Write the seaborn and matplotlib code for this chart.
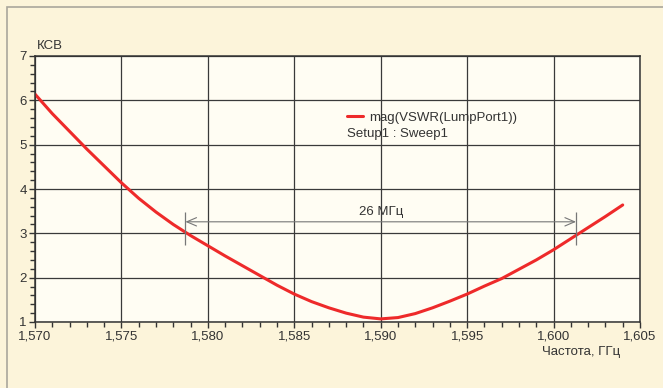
import matplotlib
matplotlib.use("Agg")
import matplotlib.pyplot as plt
import matplotlib.ticker as mticker
import numpy as np
import pandas as pd
import seaborn as sns
from matplotlib.patches import Rectangle

# частота, ГГц и КСВ
freq = [1.570, 1.571, 1.572, 1.573, 1.574, 1.575, 1.576, 1.577, 1.578, 1.579,
        1.580, 1.581, 1.582, 1.583, 1.584, 1.585, 1.586, 1.587, 1.588, 1.589,
        1.590, 1.591, 1.592, 1.593, 1.594, 1.595, 1.596, 1.597, 1.598, 1.599,
        1.600, 1.601, 1.602, 1.603, 1.604]
vswr = [6.14, 5.70, 5.30, 4.90, 4.52, 4.14, 3.79, 3.48, 3.20, 2.95,
        2.72, 2.49, 2.27, 2.05, 1.83, 1.63, 1.46, 1.32, 1.20, 1.11,
        1.07, 1.10, 1.19, 1.32, 1.47, 1.63, 1.81, 1.98, 2.19, 2.40,
        2.63, 2.88, 3.13, 3.38, 3.64]

band_low = 1.5787
band_high = 1.6013
band_level = 3.26
band_label = "26 МГц"

x_ticks = [1.570, 1.575, 1.580, 1.585, 1.590, 1.595, 1.600, 1.605]
y_ticks = [1, 2, 3, 4, 5, 6, 7]

df = pd.DataFrame({"freq": freq, "vswr": vswr})

sns.set_style("ticks")
plt.rcParams["font.family"] = ["Liberation Sans Narrow", "Liberation Sans", "DejaVu Sans"]

fig = plt.figure(figsize=(6.63, 3.88), dpi=100)
fig.patch.set_facecolor("#fcf4da")
ax = fig.add_axes([35 / 663, 1 - 322 / 388, 605 / 663, 266 / 388])
ax.set_facecolor("#fffdf3")

# рамка страницы
fig.add_artist(Rectangle((7 / 663, -0.05), 1.0, 1 - 7 / 388 + 0.05,
                         transform=fig.transFigure, fill=False,
                         edgecolor="#aaa79c", lw=1.2))

sns.lineplot(data=df, x="freq", y="vswr", ax=ax, color="#ee2a2a", lw=2.2,
             label="mag(VSWR(LumpPort1))")

ax.set_xlim(1.570, 1.605)
ax.set_ylim(1, 7)
ax.set_xticks(x_ticks)
ax.set_yticks(y_ticks)
ax.xaxis.set_minor_locator(mticker.MultipleLocator(0.001))
ax.yaxis.set_minor_locator(mticker.MultipleLocator(0.2))
ax.set_xticklabels([f"{t:.3f}".replace(".", ",") for t in x_ticks])
ax.grid(True, which="major", color="#3a3a3a", lw=0.9)
ax.tick_params(which="major", length=4, width=1, color="#333333",
               labelsize=9.5, labelcolor="#333333", pad=2)
ax.tick_params(which="minor", length=3.5, width=1, color="#333333")
for s in ax.spines.values():
    s.set_color("#333333")
    s.set_linewidth(1.1)

ax.set_xlabel("")
ax.set_ylabel("")
fig.text(37 / 663, 1 - 46 / 388, "КСВ", fontsize=9.5, color="#333333",
         va="center", ha="left")
fig.text(620 / 663, 1 - 352 / 388, "Частота, ГГц", fontsize=9.5,
         color="#333333", va="center", ha="right")

# полоса по уровню КСВ = 3
ax.annotate("", xy=(band_low, band_level), xytext=(band_high, band_level),
            arrowprops=dict(arrowstyle="<->,head_length=0.7,head_width=0.3",
                            color="#777777", lw=0.8,
                            shrinkA=0, shrinkB=0))
ax.vlines([band_low, band_high], band_level - 0.52, band_level + 0.22,
          color="#777777", lw=0.9)
ax.text((band_low + band_high) / 2, band_level + 0.08, band_label,
        ha="center", va="bottom", fontsize=9.5, color="#333333")

leg = ax.legend(loc="upper left", bbox_to_anchor=(0.516, 0.79), frameon=False,
                handlelength=1.2, handletextpad=0.5, fontsize=9.5,
                borderpad=0, borderaxespad=0)
for t in leg.get_texts():
    t.set_color("#333333")
ax.text(0.516, 0.706, "Setup1 : Sweep1", transform=ax.transAxes,
        fontsize=9.5, color="#333333", va="center", ha="left")

fig.savefig("out.png", dpi=100, facecolor=fig.get_facecolor())
